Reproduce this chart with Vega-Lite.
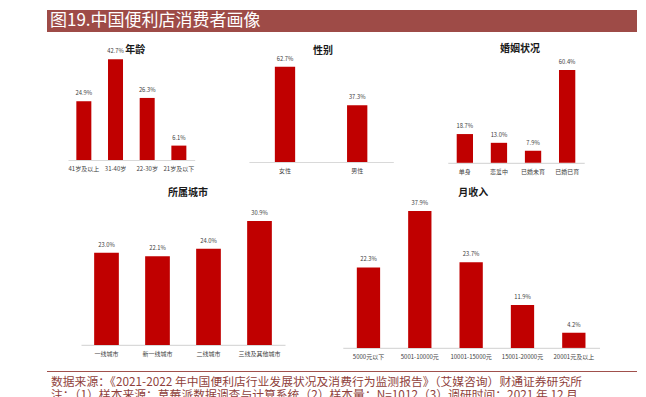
{
  "$schema": "https://vega.github.io/schema/vega-lite/v6.json",
  "padding": {"left": 47, "top": 10, "right": 9, "bottom": 0},
  "background": "white",
  "spacing": 0,
  "config": {
    "view": {"stroke": null},
    "font": "Noto Sans CJK SC",
    "axisX": {"domainColor": "#D9D9D9", "domainWidth": 1.2, "ticks": false, "tickSize": 0, "labelAngle": 0, "labelFontSize": 6, "labelColor": "#404040", "labelPadding": 5.5, "grid": false, "labelFont": "Noto Sans CJK SC"},
    "title": {"fontSize": 10, "fontWeight": "bold", "color": "#1A1A1A", "font": "Noto Sans CJK SC", "frame": "group"},
    "bar": {"color": "#C00000"}
  },
  "vconcat": [
    {
      "width": 590, "height": 22,
      "view": {"fill": "#9E4B47", "stroke": null},
      "data": {"values": [{"t": "图19.中国便利店消费者画像"}]},
      "mark": {"type": "text", "align": "left", "baseline": "middle", "dx": 3, "fontSize": 17, "color": "#FFFFFF", "font": "Noto Sans CJK SC"},
      "encoding": {
        "text": {"field": "t"},
        "x": {"datum": 0, "type": "quantitative", "scale": {"domain": [0, 1]}, "axis": null}
      }
    },
    {
      "hconcat": [
        {"width": 20.7, "height": 148, "data": {"values": []}, "mark": "point"},
        {
          "hconcat": [
            {
              "width": 126.7, "height": 128,
              "title": {"text": "年龄", "offset": -22.8, "dx": 4},
              "data": {"values": [
                {"c": "41岁及以上", "v": 0.249},
                {"c": "31-40岁", "v": 0.427},
                {"c": "22-30岁", "v": 0.263},
                {"c": "21岁及以下", "v": 0.061}
              ]},
              "encoding": {
                "x": {"field": "c", "type": "nominal", "sort": null, "title": null, "scale": {"paddingInner": 0, "paddingOuter": 0}},
                "y": {"field": "v", "type": "quantitative", "axis": null, "scale": {"domain": [0, 0.5424]}}
              },
              "layer": [
                {"mark": {"type": "bar", "size": 15}},
                {"mark": {"type": "text", "dy": -8, "baseline": "middle", "fontSize": 5.8, "color": "#404040", "font": "Liberation Sans Narrow, Noto Sans CJK SC"}, "encoding": {"text": {"field": "v", "format": ".1%"}}}
              ]
            },
            {
              "width": 144.4, "height": 130,
              "title": {"text": "性别", "offset": -24.2, "dx": 2},
              "data": {"values": [
                {"c": "女性", "v": 0.627},
                {"c": "男性", "v": 0.373}
              ]},
              "encoding": {
                "x": {"field": "c", "type": "nominal", "sort": null, "title": null, "scale": {"paddingInner": 0, "paddingOuter": 0}},
                "y": {"field": "v", "type": "quantitative", "axis": null, "scale": {"domain": [0, 0.8553]}}
              },
              "layer": [
                {"mark": {"type": "bar", "size": 20.3}},
                {"mark": {"type": "text", "dy": -8, "baseline": "middle", "fontSize": 5.8, "color": "#404040", "font": "Liberation Sans Narrow, Noto Sans CJK SC"}, "encoding": {"text": {"field": "v", "format": ".1%"}}}
              ]
            },
            {
              "width": 136.4, "height": 130.8,
              "title": {"text": "婚姻状况", "offset": -21.5, "dx": 4},
              "data": {"values": [
                {"c": "单身", "v": 0.187},
                {"c": "恋爱中", "v": 0.130},
                {"c": "已婚未育", "v": 0.079},
                {"c": "已婚已育", "v": 0.604}
              ]},
              "encoding": {
                "x": {"field": "c", "type": "nominal", "sort": null, "title": null, "scale": {"paddingInner": 0, "paddingOuter": 0}},
                "y": {"field": "v", "type": "quantitative", "axis": null, "scale": {"domain": [0, 0.851]}}
              },
              "layer": [
                {"mark": {"type": "bar", "size": 16.3}},
                {"mark": {"type": "text", "dy": -8, "baseline": "middle", "fontSize": 5.8, "color": "#404040", "font": "Liberation Sans Narrow, Noto Sans CJK SC"}, "encoding": {"text": {"field": "v", "format": ".1%"}}}
              ]
            }
          ],
          "spacing": 53.9,
          "bounds": "flush"
        }
      ],
      "spacing": 0,
      "bounds": "flush"
    },
    {
      "hconcat": [
        {"width": 33.2, "height": 190.7, "data": {"values": []}, "mark": "point"},
        {
          "hconcat": [
            {
              "width": 204, "height": 164.9,
              "title": {"text": "所属城市", "offset": -18.2, "dx": 5},
              "data": {"values": [
                {"c": "一线城市", "v": 0.230},
                {"c": "新一线城市", "v": 0.221},
                {"c": "二线城市", "v": 0.240},
                {"c": "三线及其他城市", "v": 0.309}
              ]},
              "encoding": {
                "x": {"field": "c", "type": "nominal", "sort": null, "title": null, "scale": {"paddingInner": 0, "paddingOuter": 0}},
                "y": {"field": "v", "type": "quantitative", "axis": null, "scale": {"domain": [0, 0.4112]}}
              },
              "layer": [
                {"mark": {"type": "bar", "size": 24.7}},
                {"mark": {"type": "text", "dy": -8, "baseline": "middle", "fontSize": 5.8, "color": "#404040", "font": "Liberation Sans Narrow, Noto Sans CJK SC"}, "encoding": {"text": {"field": "v", "format": ".1%"}}}
              ]
            },
            {
              "width": 256.7, "height": 167.9,
              "title": {"text": "月收入", "offset": -18.2, "dx": 2},
              "data": {"values": [
                {"c": "5000元以下", "v": 0.223},
                {"c": "5001-10000元", "v": 0.379},
                {"c": "10001-15000元", "v": 0.237},
                {"c": "15001-20000元", "v": 0.119},
                {"c": "20001元及以上", "v": 0.042}
              ]},
              "encoding": {
                "x": {"field": "c", "type": "nominal", "sort": null, "title": null, "scale": {"paddingInner": 0, "paddingOuter": 0}},
                "y": {"field": "v", "type": "quantitative", "axis": null, "scale": {"domain": [0, 0.465]}}
              },
              "layer": [
                {"mark": {"type": "bar", "size": 23.3}},
                {"mark": {"type": "text", "dy": -8, "baseline": "middle", "fontSize": 5.8, "color": "#404040", "font": "Liberation Sans Narrow, Noto Sans CJK SC"}, "encoding": {"text": {"field": "v", "format": ".1%"}}}
              ]
            }
          ],
          "spacing": 57.8,
          "bounds": "flush"
        }
      ],
      "spacing": 0,
      "bounds": "flush"
    },
    {
      "width": 590, "height": 1,
      "view": {"fill": "#A0504C", "stroke": null},
      "title": {
        "text": ["数据来源：《2021-2022 年中国便利店行业发展状况及消费行为监测报告》（艾媒咨询）财通证券研究所", "注：（1）样本来源：草莓派数据调查与计算系统（2）样本量：N=1012（3）调研时间：2021 年 12 月"],
        "orient": "bottom", "anchor": "start", "fontSize": 11.8, "fontWeight": "normal", "color": "#8F3F3B", "lineHeight": 13.5, "offset": 4.5, "dx": 4
      },
      "data": {"values": []},
      "mark": "point"
    }
  ]
}
